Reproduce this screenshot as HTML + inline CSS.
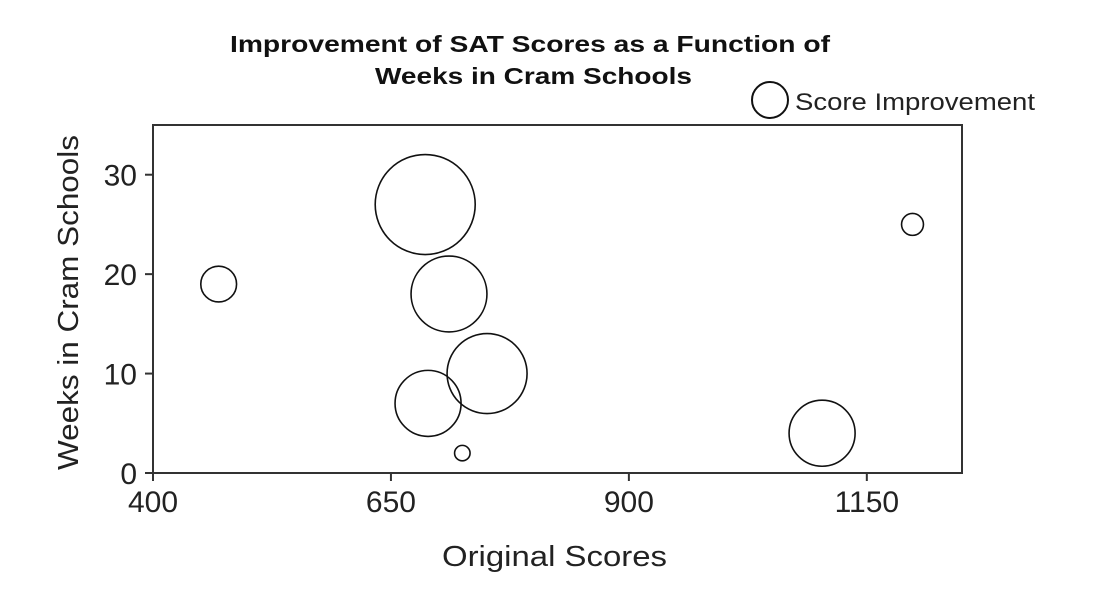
<!DOCTYPE html>
<html><head><meta charset="utf-8"><style>
body{margin:0;background:#fff;}
svg{display:block;font-family:"Liberation Sans",Arial,sans-serif;}
</style></head><body>
<svg id="chart" width="1111" height="616" viewBox="0 0 1111 616">
<g font-weight="bold" font-size="23" fill="#111">
<text x="230" y="52" textLength="600" lengthAdjust="spacingAndGlyphs">Improvement of SAT Scores as a Function of</text>
<text x="375" y="84" textLength="317" lengthAdjust="spacingAndGlyphs">Weeks in Cram Schools</text>
</g>
<g>
<circle cx="770" cy="100" r="18" fill="none" stroke="#111" stroke-width="2"/>
<text x="795" y="110" font-size="24" fill="#222" textLength="240" lengthAdjust="spacingAndGlyphs">Score Improvement</text>
</g>
<rect x="153" y="125" width="809" height="348" fill="none" stroke="#333" stroke-width="2"/>
<g id="xticks"></g>
<g id="yticks"></g>
<g id="bubbles"></g>
<text x="442" y="566" font-size="29" textLength="225" lengthAdjust="spacingAndGlyphs" fill="#222">Original Scores</text>
<text transform="translate(78,470) rotate(-90)" font-size="29" textLength="335" lengthAdjust="spacingAndGlyphs" fill="#222">Weeks in Cram Schools</text>
</svg>
<script>
const xTicks=[400,650,900,1150];
const yTicks=[0,10,20,30];
const scores=[469,686,711,751,689,725,1103,1198];
const weeks=[19,27,18,10,7,2,4,25];
const improvements=[32,250,144,160,109,6,109,12];
const NS='http://www.w3.org/2000/svg';
const X0=153,X1=962,Y0=473,Y1=125,xmin=400,xmax=1250,ymin=0,ymax=35;
const xs=v=>X0+(v-xmin)/(xmax-xmin)*(X1-X0);
const ys=v=>Y0-(v-ymin)/(ymax-ymin)*(Y0-Y1);
const rs=v=>50*Math.sqrt(v/250);
function mk(t,a,p){const e=document.createElementNS(NS,t);for(const k in a)e.setAttribute(k,a[k]);p.appendChild(e);return e;}
const gx=document.getElementById('xticks');
xTicks.forEach(t=>{
 const l=mk('line',{x1:xs(t),x2:xs(t),y1:Y0,y2:Y0+8,stroke:'#333','stroke-width':2},gx);
 
 
 const tx=mk('text',{x:xs(t),y:Y0+39,'font-size':30,'text-anchor':'middle',fill:'#222'},gx);
 tx.textContent=t;
 
 
});
const gy=document.getElementById('yticks');
yTicks.forEach(t=>{
 const l=mk('line',{x1:X0-8,x2:X0,y1:ys(t),y2:ys(t),stroke:'#333','stroke-width':2},gy);
 
 
 const tx=mk('text',{x:X0-16,y:ys(t)+11,'font-size':30,'text-anchor':'end',fill:'#222'},gy);
 tx.textContent=t;
 
 
});
const gb=document.getElementById('bubbles');
scores.forEach((s,i)=>{
 const c=mk('circle',{cx:xs(s),cy:ys(weeks[i]),r:rs(improvements[i]),fill:'none',stroke:'#111','stroke-width':1.6},gb);
 
 
});
</script>
</body></html>
